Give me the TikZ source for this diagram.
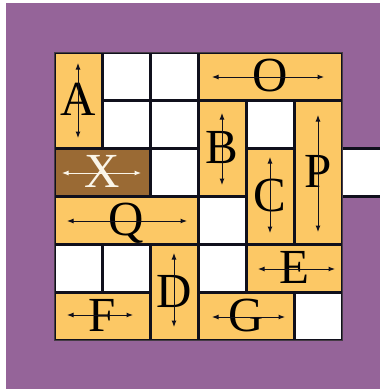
\documentclass[tikz,border=0pt]{standalone}
\usepackage{fontspec}
\setmainfont{Liberation Serif}
\usetikzlibrary{arrows.meta,calc}
\definecolor{bgpurple}{RGB}{149,100,153}
\definecolor{piececol}{RGB}{252,200,101}
\definecolor{targetcol}{RGB}{154,106,52}
\definecolor{edgecol}{RGB}{16,16,28}
\definecolor{rimcol}{RGB}{70,60,70}
\definecolor{xwhite}{RGB}{250,245,232}
\begin{document}
\begin{tikzpicture}[x=1pt,y=-1pt,
  emptycell/.style={draw=edgecol,line width=3pt,fill=white,minimum width=48pt,minimum height=48pt,inner sep=0pt,outer sep=0pt},
  car/.style={draw=edgecol,line width=3pt,fill=piececol,inner sep=0pt,outer sep=0pt,
    font=\fontsize{49}{49}\selectfont,text height=31pt,text depth=0pt,text=black},
  targetcar/.style={car,fill=targetcol,text=xwhite},
  hcar/.style={minimum height=48pt},
  vcar/.style={minimum width=48pt},
  arr/.style={draw=edgecol,line width=1pt,{Latex[length=6.5pt,width=5pt]}-{Latex[length=6.5pt,width=5pt]}},
  warr/.style={arr,draw=xwhite,color=xwhite}
]
\useasboundingbox (0,0) rectangle (380,389);
\fill[white] (0,0) rectangle (380,389);
\fill[bgpurple] (6,3) rectangle (380,389);
% exit strip
\fill[white] (342,148) rectangle (380,196);
\draw[edgecol,line width=3pt] (342,148) -- (380,148) (342,196) -- (380,196);
\begin{scope}
\clip (54,52) rectangle (342,340);
\fill[white] (54,52) rectangle (342,340);
% empty cells
\node[emptycell] (e01) at (126,76) {};
\node[emptycell] (e02) at (174,76) {};
\node[emptycell] (e11) at (126,124) {};
\node[emptycell] (e12) at (174,124) {};
\node[emptycell] (e14) at (270,124) {};
\node[emptycell] (e22) at (174,172) {};
\node[emptycell] (e33) at (222,220) {};
\node[emptycell] (e40) at (78,268) {};
\node[emptycell] (e41) at (126,268) {};
\node[emptycell] (e43) at (222,268) {};
\node[emptycell] (e55) at (318,316) {};
% pieces
\node[car,vcar,minimum height=96pt] (A) at (78,100) {A};
\node[car,hcar,minimum width=144pt] (O) at (270,76) {O};
\node[targetcar,hcar,minimum width=96pt] (X) at (102,172) {X};
\node[car,vcar,minimum height=96pt] (B) at (222,148) {B};
\node[car,vcar,minimum height=96pt] (C) at (270,196) {C};
\node[car,vcar,minimum height=144pt] (P) at (318,172) {P};
\node[car,hcar,minimum width=144pt] (Q) at (126,220) {Q};
\node[car,vcar,minimum height=96pt] (D) at (174,292) {D};
\node[car,hcar,minimum width=96pt] (E) at (294,268) {E};
\node[car,hcar,minimum width=96pt] (F) at (102,316) {F};
\node[car,hcar,minimum width=96pt] (G) at (246,316) {G};
\end{scope}
\draw[rimcol,line width=1pt] (54,52) rectangle (342,340);
% arrows
\draw[arr] ($(A.north)+(0,11)$) -- ($(A.south)+(0,-10)$);
\draw[arr] ($(B.north)+(0,13)$) -- ($(B.south)+(0,-11)$);
\draw[arr] ($(C.north)+(0,9)$) -- ($(C.south)+(0,-11)$);
\draw[arr] ($(P.north)+(0,15)$) -- ($(P.south)+(0,-12)$);
\draw[arr] ($(D.north)+(0,9)$) -- ($(D.south)+(0,-13)$);
\draw[arr] ($(O.west)+(14,1)$) -- ($(O.east)+(-18,1)$);
\draw[arr] ($(Q.west)+(13,1)$) -- ($(Q.east)+(-11,1)$);
\draw[warr] ($(X.west)+(8,1)$) -- ($(X.east)+(-9,1)$);
\draw[arr] ($(E.west)+(12,1)$) -- ($(E.east)+(-7,1)$);
\draw[arr] ($(F.west)+(13,-1)$) -- ($(F.east)+(-17,-1)$);
\draw[arr] ($(G.west)+(14,1)$) -- ($(G.east)+(-9,1)$);
\end{tikzpicture}
\end{document}
